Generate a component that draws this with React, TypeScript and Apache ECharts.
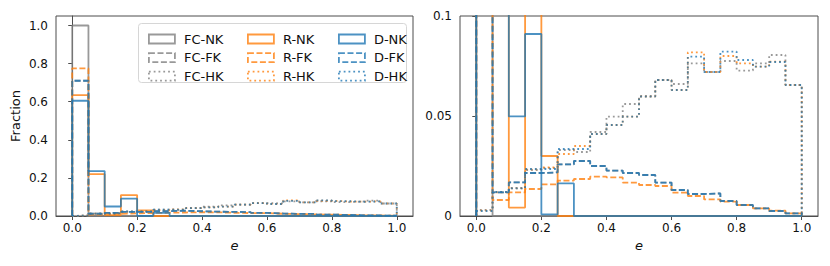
import React, { useEffect, useRef } from "react";
import * as echarts from "echarts";

const binEdges = [0, 0.05, 0.1, 0.15, 0.2, 0.25, 0.3, 0.35, 0.4, 0.45, 0.5, 0.55, 0.6, 0.65, 0.7, 0.75, 0.8, 0.85, 0.9, 0.95, 1.0];

const fcNK = [1.0, 0, 0, 0, 0, 0, 0, 0, 0, 0, 0, 0, 0, 0, 0, 0, 0, 0, 0, 0];
const fcFK = [0.71, 0.0118, 0.0168, 0.0215, 0.0218, 0.0258, 0.0275, 0.025, 0.0227, 0.0215, 0.0205, 0.0167, 0.013, 0.011, 0.0113, 0.0075, 0.0055, 0.0038, 0.0025, 0.0013];
const fcHK = [0.003, 0.012, 0.014, 0.023, 0.024, 0.033, 0.032, 0.042, 0.0497, 0.056, 0.06, 0.068, 0.066, 0.0763, 0.072, 0.0775, 0.0727, 0.0763, 0.0805, 0.0655];

const rNK = [0.635, 0.22, 0.0042, 0.11, 0.03, 0, 0, 0, 0, 0, 0, 0, 0, 0, 0, 0, 0, 0, 0, 0];
const rFK = [0.775, 0.008, 0.0118, 0.0135, 0.0158, 0.0177, 0.0185, 0.0197, 0.0193, 0.0167, 0.0155, 0.015, 0.0117, 0.01, 0.0083, 0.0072, 0.0055, 0.0038, 0.0027, 0.0013];
const rHK = [0.0027, 0.0118, 0.0138, 0.0233, 0.0243, 0.031, 0.035, 0.041, 0.0455, 0.0497, 0.0597, 0.068, 0.063, 0.0818, 0.072, 0.08, 0.0763, 0.0747, 0.0772, 0.0655];

const dNK = [0.605, 0.236, 0.0498, 0.091, 0.0008, 0.0163, 0, 0, 0, 0, 0, 0, 0, 0, 0, 0, 0, 0, 0, 0];
const dFK = [0.71, 0.0118, 0.0168, 0.0215, 0.0218, 0.0258, 0.0275, 0.025, 0.0227, 0.0215, 0.0205, 0.0167, 0.013, 0.011, 0.0113, 0.0075, 0.0055, 0.0038, 0.0025, 0.0013];
const dHK = [0.0025, 0.012, 0.0138, 0.0235, 0.0235, 0.0335, 0.0335, 0.041, 0.0455, 0.0497, 0.0597, 0.068, 0.063, 0.0797, 0.072, 0.0822, 0.078, 0.0747, 0.077, 0.0655];

const xTicks = [0, 0.2, 0.4, 0.6, 0.8, 1.0];
const yTicksLeft = [0, 0.2, 0.4, 0.6, 0.8, 1.0];
const yTicksRight = [0, 0.05, 0.1];

const GRAY = "rgba(128,128,128,0.8)";
const ORANGE = "rgba(255,127,14,0.8)";
const BLUE = "rgba(31,119,180,0.8)";
const LW = 1.8;
const DASH = [6, 2.6];
const DOT = [1.8, 3];

const seriesDefs = [
  { name: "FC-NK", vals: fcNK, color: GRAY, type: "solid" as any },
  { name: "FC-FK", vals: fcFK, color: GRAY, type: DASH as any },
  { name: "FC-HK", vals: fcHK, color: GRAY, type: DOT as any },
  { name: "R-NK", vals: rNK, color: ORANGE, type: "solid" as any },
  { name: "R-FK", vals: rFK, color: ORANGE, type: DASH as any },
  { name: "R-HK", vals: rHK, color: ORANGE, type: DOT as any },
  { name: "D-NK", vals: dNK, color: BLUE, type: "solid" as any },
  { name: "D-FK", vals: dFK, color: BLUE, type: DASH as any },
  { name: "D-HK", vals: dHK, color: BLUE, type: DOT as any },
];

function stepPoints(vals: number[]) {
  const pts: number[][] = [[binEdges[0], 0]];
  vals.forEach((v, i) => {
    pts.push([binEdges[i], v]);
    pts.push([binEdges[i + 1], v]);
  });
  pts.push([binEdges[binEdges.length - 1], 0]);
  return pts;
}

const FONT = "DejaVu Sans";
const AXIS_COLOR = "#4d4d4d";
const TICK_FS = 12;

export default function App() {
  const ref = useRef<HTMLDivElement>(null);
  useEffect(() => {
    if (!ref.current) return;
    const chart = echarts.init(ref.current, null, { renderer: "svg" });

    const mkX = (gi: number) => ({
      type: "value",
      gridIndex: gi,
      min: -0.05,
      max: 1.05,
      name: "e",
      nameLocation: "middle",
      nameGap: 22,
      nameTextStyle: { fontFamily: FONT, fontSize: 13, fontStyle: "italic", color: "#111" },
      axisLine: { show: true, onZero: false, lineStyle: { color: AXIS_COLOR, width: 1 } },
      axisTick: { show: true, length: 4, customValues: xTicks, lineStyle: { color: AXIS_COLOR } },
      axisLabel: {
        customValues: xTicks,
        margin: 6,
        fontFamily: FONT,
        fontSize: TICK_FS,
        color: "#111",
        formatter: (v: number) => v.toFixed(1),
      },
      splitLine: { show: false },
    });

    const legendBase = (names: string[], left: number) => ({
      orient: "vertical",
      left,
      top: 27,
      itemWidth: 26,
      itemHeight: 9,
      itemGap: 4.6,
      selectedMode: false,
      textStyle: { fontFamily: FONT, fontSize: 13, color: "#111", lineHeight: 14, padding: [0, 0, 0, 4] },
      data: names.map((n) => {
        const d = seriesDefs.find((s) => s.name === n)!;
        return {
          name: n,
          icon: "rect",
          itemStyle: {
            color: "transparent",
            borderColor: d.color,
            borderWidth: LW,
            borderType: d.type,
          },
        };
      }),
    });

    const series: any[] = [];
    [0, 1].forEach((gi) => {
      seriesDefs.forEach((d) => {
        series.push({
          type: "line",
          name: d.name,
          xAxisIndex: gi,
          yAxisIndex: gi,
          data: stepPoints(d.vals),
          showSymbol: false,
          symbol: "none",
          clip: true,
          silent: true,
          lineStyle: { color: d.color, width: LW, type: d.type },
          itemStyle: { color: d.color },
        });
      });
    });

    chart.setOption({
      animation: false,
      backgroundColor: "#fff",
      grid: [
        { left: 56, top: 16, width: 357, height: 200, show: true, borderColor: AXIS_COLOR, borderWidth: 1, backgroundColor: "transparent" },
        { left: 460, top: 16, width: 358, height: 200, show: true, borderColor: AXIS_COLOR, borderWidth: 1, backgroundColor: "transparent" },
      ],
      xAxis: [mkX(0), mkX(1)],
      yAxis: [
        {
          type: "value",
          gridIndex: 0,
          min: 0,
          max: 1.05,
          name: "Fraction",
          nameLocation: "middle",
          nameGap: 34,
          nameTextStyle: { fontFamily: FONT, fontSize: 13, color: "#111" },
          axisLine: { show: true, lineStyle: { color: AXIS_COLOR, width: 1 } },
          axisTick: { show: true, length: 4, customValues: yTicksLeft, lineStyle: { color: AXIS_COLOR } },
          axisLabel: {
            customValues: yTicksLeft,
            margin: 8,
            fontFamily: FONT,
            fontSize: TICK_FS,
            color: "#111",
            formatter: (v: number) => v.toFixed(1),
          },
          splitLine: { show: false },
        },
        {
          type: "value",
          gridIndex: 1,
          min: 0,
          max: 0.1,
          axisLine: { show: true, lineStyle: { color: AXIS_COLOR, width: 1 } },
          axisTick: { show: true, length: 4, customValues: yTicksRight, lineStyle: { color: AXIS_COLOR } },
          axisLabel: {
            customValues: yTicksRight,
            margin: 8,
            fontFamily: FONT,
            fontSize: TICK_FS,
            color: "#111",
            formatter: (v: number) => (v === 0 ? "0" : String(Number(v.toFixed(2)))),
          },
          splitLine: { show: false },
        },
      ],
      legend: [
        legendBase(["FC-NK", "FC-FK", "FC-HK"], 143),
        legendBase(["R-NK", "R-FK", "R-HK"], 242),
        legendBase(["D-NK", "D-FK", "D-HK"], 333),
      ],
      graphic: [
        {
          type: "rect",
          z: 3,
          shape: { x: 138.5, y: 23.5, width: 268, height: 59, r: 3 },
          style: { fill: "rgba(255,255,255,0.8)", stroke: "#d6d6d6", lineWidth: 1 },
        },
      ],
      series,
    });
    return () => chart.dispose();
  }, []);
  return (
    <div
      ref={ref}
      style={{ position: "fixed", left: 0, top: 0, width: 830, height: 266, background: "#fff" }}
    />
  );
}
